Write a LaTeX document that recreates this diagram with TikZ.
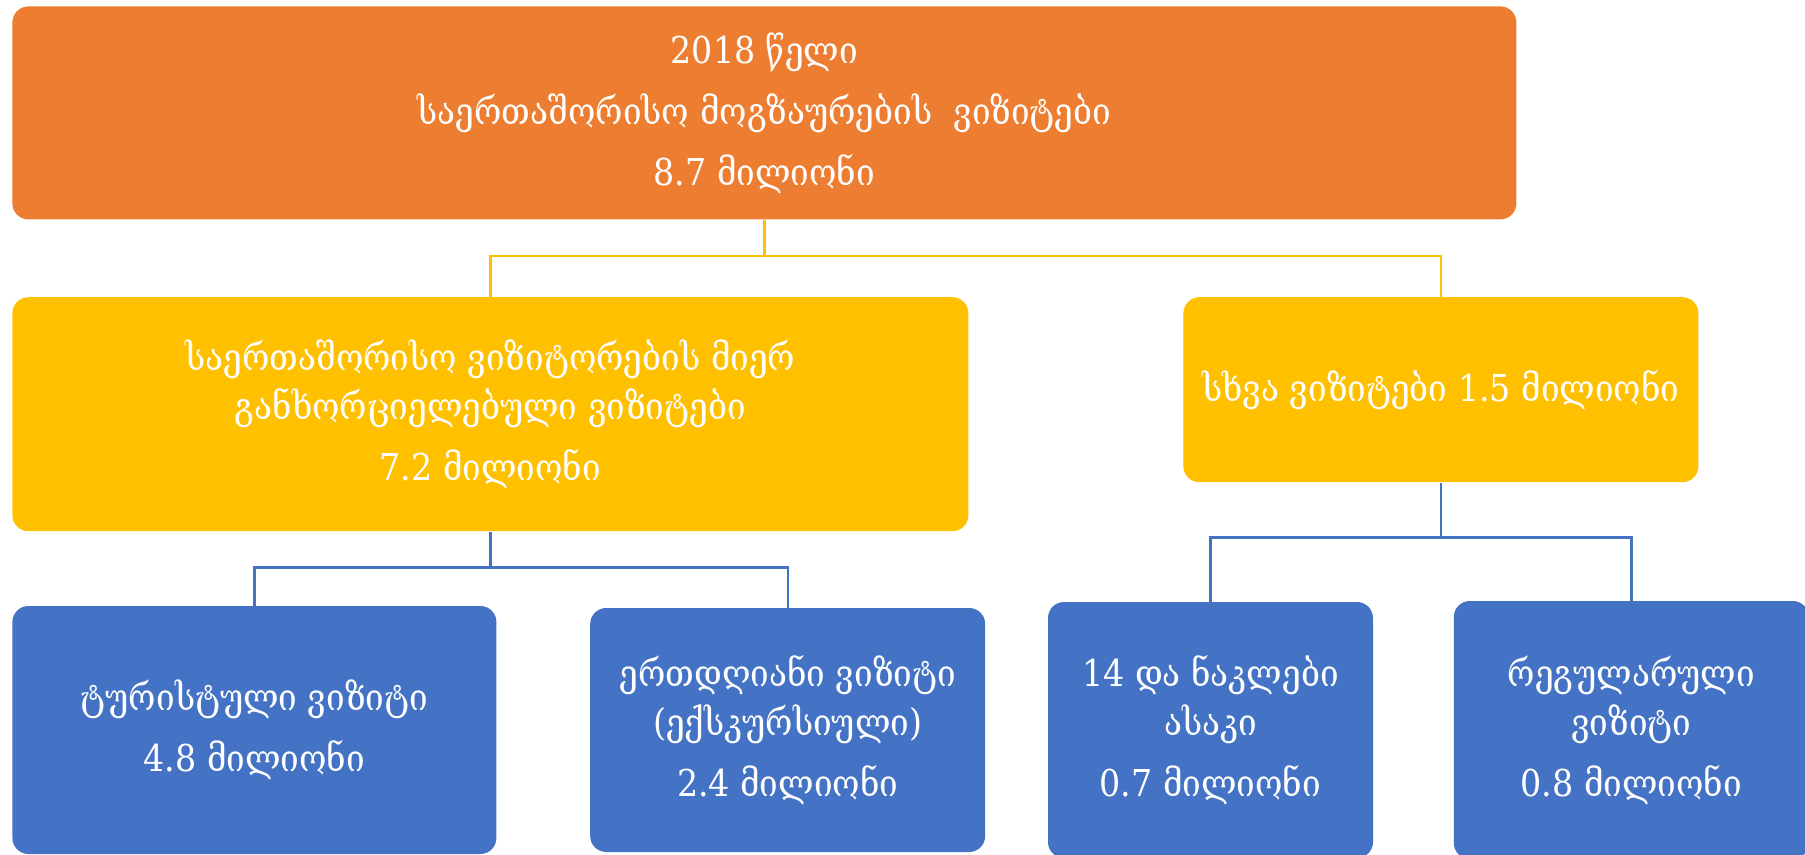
\documentclass[tikz,border=0pt]{standalone}
\usepackage{fontspec}
\setmainfont{DejaVu Serif Condensed}
\usepackage{tikz}
\usetikzlibrary{positioning}

\definecolor{orangebox}{HTML}{ED7D31}
\definecolor{yellowbox}{HTML}{FFC000}
\definecolor{bluebox}{HTML}{4472C4}

\begin{document}
\begin{tikzpicture}
    [
        box/.style={rectangle, rounded corners=8pt, text=white, align=center, inner sep=2pt,
            font=\fontsize{18.5}{24.5}\selectfont},
        topbox/.style={box, fill=orangebox},
        midbox/.style={box, fill=yellowbox},
        leafbox/.style={box, fill=bluebox},
        yellowlink/.style={draw=yellowbox, line width=1.2pt},
        bluelink/.style={draw=bluebox, line width=1.2pt},
    ]
    \useasboundingbox (0,0) rectangle (902.5pt,-427.5pt);

    \node[topbox, minimum width=752pt, minimum height=106.5pt, anchor=north west] (total) at (6pt,-3pt)
        {2018 წელი\\[6pt] საერთაშორისო მოგზაურების\ \ ვიზიტები\\[6pt] 8.7 მილიონი};
    \node[midbox, minimum width=478pt, minimum height=117pt] (visitors)
        [below=38.5pt of total.south west, anchor=north west]
        {საერთაშორისო ვიზიტორების მიერ\\ განხორციელებული ვიზიტები\\[6pt] 7.2 მილიონი};
    \node[midbox, minimum width=257.5pt, minimum height=92.5pt] (other)
        [below right=38.5pt and 91pt of total.south east, anchor=north east]
        {სხვა ვიზიტები 1.5 მილიონი};

    \node[leafbox, minimum width=242pt, minimum height=124pt] (tourist)
        [below=37pt of visitors.south west, anchor=north west]
        {ტურისტული ვიზიტი\\[6pt] 4.8 მილიონი};
    \node[leafbox, minimum width=197.5pt, minimum height=122pt] (daytrip) [right=46.5pt of tourist]
        {ერთდღიანი ვიზიტი\\ (ექსკურსიული)\\[6pt] 2.4 მილიონი};
    \node[leafbox, minimum width=162.5pt, minimum height=128pt] (children) [right=31pt of daytrip]
        {14 და ნაკლები\\ ასაკი\\[6pt] 0.7 მილიონი};
    \node[leafbox, minimum width=177.5pt, minimum height=129pt] (regular) [right=40pt of children]
        {რეგულარული\\ ვიზიტი\\[6pt] 0.8 მილიონი};

    % connectors
    \draw[yellowlink] (total.south) -- ++(0,-18pt) -| (visitors.north);
    \draw[yellowlink] (total.south) -- ++(0,-18pt) -| (other.north);
    \draw[bluelink] (visitors.south) -- ++(0,-18pt) -| (tourist.north);
    \draw[bluelink] (visitors.south) -- ++(0,-18pt) -| (daytrip.north);
    \draw[bluelink] (other.south) -- ++(0,-27.5pt) -| (children.north);
    \draw[bluelink] (other.south) -- ++(0,-27.5pt) -| (regular.north);
\end{tikzpicture}
\end{document}
